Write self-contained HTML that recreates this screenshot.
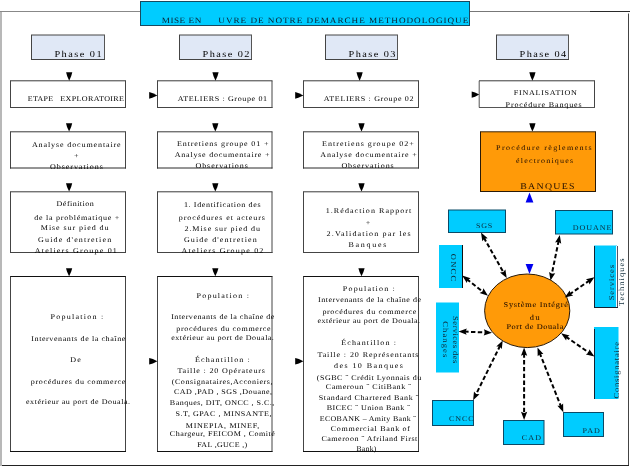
<!DOCTYPE html>
<html><head><meta charset="utf-8">
<style>
html,body{margin:0;padding:0;background:#fff;width:631px;height:466px;overflow:hidden}
svg{display:block;will-change:transform;text-rendering:geometricPrecision;font-family:"Liberation Serif",serif}
</style></head><body>
<svg width="631" height="466" viewBox="0 0 631 466">
<path d="M1 12 V466" stroke="#b8b8b8" stroke-width="2"/>
<path d="M0 11.5 H140" stroke="#888" stroke-width="1"/>
<path d="M470 11.5 H590" stroke="#777" stroke-width="1"/>
<path d="M590 11.5 H630" stroke="#2a2a2a" stroke-width="1"/>
<path d="M628.5 13.5 V466" stroke="#444" stroke-width="1"/>
<path d="M2 465.5 H629" stroke="#222" stroke-width="1"/>
<rect x="140.5" y="1.5" width="329" height="24" fill="#00ccff" stroke="#184a60"/>
<rect x="31" y="35" width="73.5" height="24.5" fill="#e0e8f6"/><path d="M31 35 H105.0" stroke="#444" stroke-width="1"/><path d="M31.5 35 V60.0" stroke="#444" stroke-width="1"/><path d="M104.5 35 V60.0" stroke="#555" stroke-width="1"/><path d="M31 59.5 H105.0" stroke="#444" stroke-width="1"/>
<rect x="179" y="35" width="72.5" height="24.5" fill="#e0e8f6"/><path d="M179 35 H252.0" stroke="#444" stroke-width="1"/><path d="M179.5 35 V60.0" stroke="#444" stroke-width="1"/><path d="M251.5 35 V60.0" stroke="#555" stroke-width="1"/><path d="M179 59.5 H252.0" stroke="#444" stroke-width="1"/>
<rect x="325" y="35" width="72.5" height="24.5" fill="#e0e8f6"/><path d="M325 35 H398.0" stroke="#444" stroke-width="1"/><path d="M325.5 35 V60.0" stroke="#444" stroke-width="1"/><path d="M397.5 35 V60.0" stroke="#555" stroke-width="1"/><path d="M325 59.5 H398.0" stroke="#444" stroke-width="1"/>
<rect x="496" y="35" width="72.5" height="24.5" fill="#e0e8f6"/><path d="M496 35 H569.0" stroke="#444" stroke-width="1"/><path d="M496.5 35 V60.0" stroke="#444" stroke-width="1"/><path d="M568.5 35 V60.0" stroke="#555" stroke-width="1"/><path d="M496 59.5 H569.0" stroke="#444" stroke-width="1"/>
<rect x="10" y="80.8" width="115.5" height="26.700000000000003" fill="#fff"/><path d="M10 80.8 H126.0" stroke="#3a3a3a" stroke-width="1"/><path d="M10.5 80.8 V108.0" stroke="#444" stroke-width="1"/><path d="M125.5 80.8 V108.0" stroke="#444" stroke-width="1"/><path d="M10 107.5 H126.0" stroke="#444" stroke-width="1"/>
<rect x="10" y="131.8" width="115.5" height="36.19999999999999" fill="#fff"/><path d="M10 131.8 H126.0" stroke="#3a3a3a" stroke-width="1"/><path d="M10.5 131.8 V168.5" stroke="#444" stroke-width="1"/><path d="M125.5 131.8 V168.5" stroke="#444" stroke-width="1"/><path d="M10 168.0 H126.0" stroke="#2a2a2a" stroke-width="1"/>
<rect x="10" y="191.8" width="115.5" height="60.69999999999999" fill="#fff"/><path d="M10 191.8 H126.0" stroke="#3a3a3a" stroke-width="1"/><path d="M10.5 191.8 V253.0" stroke="#444" stroke-width="1"/><path d="M125.5 191.8 V253.0" stroke="#444" stroke-width="1"/><path d="M10 252.5 H126.0" stroke="#444" stroke-width="1"/>
<rect x="10" y="276.5" width="115.5" height="175.0" fill="#fff"/><path d="M10 276.5 H126.0" stroke="#111" stroke-width="1"/><path d="M10.5 276.5 V452.0" stroke="#444" stroke-width="1"/><path d="M125.5 276.5 V452.0" stroke="#444" stroke-width="1"/><path d="M10 451.5 H126.0" stroke="#111" stroke-width="1"/>
<rect x="157" y="80.8" width="115.0" height="26.700000000000003" fill="#fff"/><path d="M157 80.8 H272.5" stroke="#3a3a3a" stroke-width="1"/><path d="M157.5 80.8 V108.0" stroke="#444" stroke-width="1"/><path d="M272.0 80.8 V108.0" stroke="#444" stroke-width="1"/><path d="M157 107.5 H272.5" stroke="#444" stroke-width="1"/>
<rect x="157" y="131.8" width="115.0" height="36.19999999999999" fill="#fff"/><path d="M157 131.8 H272.5" stroke="#3a3a3a" stroke-width="1"/><path d="M157.5 131.8 V168.5" stroke="#444" stroke-width="1"/><path d="M272.0 131.8 V168.5" stroke="#444" stroke-width="1"/><path d="M157 168.0 H272.5" stroke="#2a2a2a" stroke-width="1"/>
<rect x="157" y="191.8" width="115.0" height="60.69999999999999" fill="#fff"/><path d="M157 191.8 H272.5" stroke="#3a3a3a" stroke-width="1"/><path d="M157.5 191.8 V253.0" stroke="#444" stroke-width="1"/><path d="M272.0 191.8 V253.0" stroke="#444" stroke-width="1"/><path d="M157 252.5 H272.5" stroke="#444" stroke-width="1"/>
<rect x="157" y="276.5" width="115.0" height="175.0" fill="#fff"/><path d="M157 276.5 H272.5" stroke="#111" stroke-width="1"/><path d="M157.5 276.5 V452.0" stroke="#444" stroke-width="1"/><path d="M272.0 276.5 V452.0" stroke="#444" stroke-width="1"/><path d="M157 451.5 H272.5" stroke="#111" stroke-width="1"/>
<rect x="303" y="80.8" width="115.5" height="26.700000000000003" fill="#fff"/><path d="M303 80.8 H419.0" stroke="#3a3a3a" stroke-width="1"/><path d="M303.5 80.8 V108.0" stroke="#444" stroke-width="1"/><path d="M418.5 80.8 V108.0" stroke="#444" stroke-width="1"/><path d="M303 107.5 H419.0" stroke="#444" stroke-width="1"/>
<rect x="303" y="131.8" width="115.5" height="36.19999999999999" fill="#fff"/><path d="M303 131.8 H419.0" stroke="#3a3a3a" stroke-width="1"/><path d="M303.5 131.8 V168.5" stroke="#444" stroke-width="1"/><path d="M418.5 131.8 V168.5" stroke="#444" stroke-width="1"/><path d="M303 168.0 H419.0" stroke="#2a2a2a" stroke-width="1"/>
<rect x="303" y="191.8" width="115.5" height="60.69999999999999" fill="#fff"/><path d="M303 191.8 H419.0" stroke="#3a3a3a" stroke-width="1"/><path d="M303.5 191.8 V253.0" stroke="#444" stroke-width="1"/><path d="M418.5 191.8 V253.0" stroke="#444" stroke-width="1"/><path d="M303 252.5 H419.0" stroke="#444" stroke-width="1"/>
<rect x="303" y="276.5" width="115.5" height="175.0" fill="#fff"/><path d="M303 276.5 H419.0" stroke="#111" stroke-width="1"/><path d="M303.5 276.5 V452.0" stroke="#444" stroke-width="1"/><path d="M418.5 276.5 V452.0" stroke="#444" stroke-width="1"/><path d="M303 451.5 H419.0" stroke="#111" stroke-width="1"/>
<rect x="479" y="80.8" width="115.5" height="26.700000000000003" fill="#fff"/><path d="M479 80.8 H595.0" stroke="#3a3a3a" stroke-width="1"/><path d="M594.5 80.8 V108.0" stroke="#444" stroke-width="1"/><path d="M479 107.5 H595.0" stroke="#555" stroke-width="1"/>
<path d="M479.2 80.8 V107.5" stroke="#555" stroke-width="1"/>
<rect x="480" y="131.8" width="115.5" height="59.69999999999999" fill="#ff9a08"/><path d="M480 131.8 H596.0" stroke="#3a2408" stroke-width="1"/><path d="M480.5 131.8 V192.0" stroke="#2a1a08" stroke-width="1"/><path d="M595.5 131.8 V192.0" stroke="#2a1a08" stroke-width="1"/><path d="M480 191.5 H596.0" stroke="#2a1a08" stroke-width="1"/>
<path d="M66.10 72.3 H72.30 L71.25 76.12 L69.20 80.8 L67.15 76.12 Z" fill="#000"/>
<path d="M212.40 72.3 H218.60 L217.55 76.12 L215.50 80.8 L213.45 76.12 Z" fill="#000"/>
<path d="M356.50 72.3 H362.70 L361.65 76.12 L359.60 80.8 L357.55 76.12 Z" fill="#000"/>
<path d="M529.30 72.3 H535.50 L534.45 76.12 L532.40 80.8 L530.35 76.12 Z" fill="#000"/>
<path d="M66.00 123.2 H72.20 L71.15 126.98 L69.10 131.6 L67.05 126.98 Z" fill="#000"/>
<path d="M212.20 123.2 H218.40 L217.35 126.98 L215.30 131.6 L213.25 126.98 Z" fill="#000"/>
<path d="M358.40 123.2 H364.60 L363.55 126.98 L361.50 131.6 L359.45 126.98 Z" fill="#000"/>
<path d="M529.30 123.2 H535.50 L534.45 126.98 L532.40 131.6 L530.35 126.98 Z" fill="#000"/>
<path d="M66.00 183.2 H72.20 L71.15 186.98 L69.10 191.6 L67.05 186.98 Z" fill="#000"/>
<path d="M66.00 268.2 H72.20 L71.15 271.80 L69.10 276.2 L67.05 271.80 Z" fill="#000"/>
<path d="M212.20 183.2 H218.40 L217.35 186.98 L215.30 191.6 L213.25 186.98 Z" fill="#000"/>
<path d="M212.20 268.2 H218.40 L217.35 271.80 L215.30 276.2 L213.25 271.80 Z" fill="#000"/>
<path d="M358.40 183.2 H364.60 L363.55 186.98 L361.50 191.6 L359.45 186.98 Z" fill="#000"/>
<path d="M358.40 268.2 H364.60 L363.55 271.80 L361.50 276.2 L359.45 271.80 Z" fill="#000"/>
<path d="M149.2 92.10 V98.70 L152.89 97.58 L157.39999999999998 95.40 L152.89 93.22 Z" fill="#000"/>
<path d="M295.2 92.10 V98.70 L298.89 97.58 L303.4 95.40 L298.89 93.22 Z" fill="#000"/>
<path d="M471.7 91.45 V97.75 L475.07 96.68 L479.2 94.60 L475.07 92.52 Z" fill="#000"/>
<path d="M149.2 357.90 V364.50 L152.89 363.38 L157.39999999999998 361.20 L152.89 359.02 Z" fill="#000"/>
<path d="M295.2 357.90 V364.50 L298.89 363.38 L303.4 361.20 L298.89 359.02 Z" fill="#000"/>
<path d="M525.6 202.6 H533.4 L529.5 192.4 Z" fill="#0000ee"/>
<g fill="#00ccff" stroke="#0b4a66">
<rect x="448.5" y="210" width="57" height="22.5"/>
<rect x="555.5" y="210.5" width="57" height="23.5"/>
<rect x="432.5" y="400.5" width="41" height="25"/>
<rect x="503.5" y="420.5" width="40.5" height="24"/>
<rect x="563.5" y="412.5" width="40" height="24"/>
</g>
<g fill="#00ccff">
<rect x="439" y="245" width="24" height="43"/>
<rect x="436" y="302.5" width="23" height="70"/>
<rect x="594" y="245.5" width="23" height="61.5"/>
<rect x="594" y="327" width="24.5" height="72"/>
</g>
<path d="M462.5 245 V288" stroke="#111" stroke-width="1"/>
<path d="M594.5 246 V308" stroke="#123" stroke-width="1"/>
<path d="M617.5 246 V308" stroke="#556" stroke-width="1"/>
<path d="M616.5 246 V307" stroke="#e8f8ff" stroke-width="1"/>
<path d="M594 307.5 H618" stroke="#123" stroke-width="1"/>
<path d="M594.5 329 V399" stroke="#123" stroke-width="1"/>
<ellipse cx="527.2" cy="310.8" rx="42.6" ry="36.8" fill="#ff9a08" stroke="#2a1a08" stroke-width="1"/>
<path d="M525.6 264 H533.4 L529.5 274 Z" fill="#0000ee"/>
<line x1="483.8" y1="237.6" x2="503.9" y2="273.1" stroke="#000" stroke-width="2.0" stroke-dasharray="4.4 2.4"/>
<path d="M481.0 232.6 L482.3 241.3 L484.4 238.7 L487.7 238.2 Z" fill="#000"/>
<path d="M506.7 278.1 L500.0 272.5 L503.3 272.0 L505.4 269.4 Z" fill="#000"/>
<line x1="558.7" y1="240.6" x2="551.6" y2="275.0" stroke="#000" stroke-width="2.0" stroke-dasharray="4.4 2.4"/>
<path d="M559.8 235.0 L555.1 242.4 L558.4 241.8 L561.2 243.7 Z" fill="#000"/>
<path d="M550.5 280.6 L549.1 271.9 L551.9 273.8 L555.2 273.2 Z" fill="#000"/>
<line x1="589.7" y1="280.4" x2="569.4" y2="294.4" stroke="#000" stroke-width="2.0" stroke-dasharray="4.4 2.4"/>
<path d="M594.4 277.2 L585.9 279.3 L588.7 281.1 L589.4 284.4 Z" fill="#000"/>
<path d="M564.7 297.6 L569.7 290.4 L570.4 293.7 L573.2 295.5 Z" fill="#000"/>
<line x1="466.7" y1="279.1" x2="483.5" y2="292.2" stroke="#000" stroke-width="2.0" stroke-dasharray="4.4 2.4"/>
<path d="M462.2 275.6 L466.8 283.1 L467.7 279.9 L470.6 278.2 Z" fill="#000"/>
<path d="M488.0 295.7 L479.6 293.1 L482.5 291.4 L483.4 288.2 Z" fill="#000"/>
<line x1="464.2" y1="331.6" x2="486.3" y2="332.5" stroke="#000" stroke-width="2.0" stroke-dasharray="4.4 2.4"/>
<path d="M458.5 331.4 L466.6 334.8 L465.5 331.7 L466.8 328.6 Z" fill="#000"/>
<path d="M492.0 332.7 L483.7 335.5 L485.0 332.4 L483.9 329.3 Z" fill="#000"/>
<line x1="500.2" y1="345.5" x2="475.6" y2="395.2" stroke="#000" stroke-width="2.0" stroke-dasharray="4.4 2.4"/>
<path d="M502.7 340.4 L496.3 346.4 L499.6 346.6 L501.8 349.1 Z" fill="#000"/>
<path d="M473.1 400.3 L474.0 391.6 L476.2 394.1 L479.5 394.3 Z" fill="#000"/>
<line x1="524.1" y1="353.3" x2="524.1" y2="414.3" stroke="#000" stroke-width="2.0" stroke-dasharray="4.4 2.4"/>
<path d="M524.1 347.6 L521.0 355.8 L524.1 354.6 L527.2 355.8 Z" fill="#000"/>
<path d="M524.1 420.0 L521.0 411.8 L524.1 413.0 L527.2 411.8 Z" fill="#000"/>
<line x1="539.6" y1="352.8" x2="561.2" y2="407.0" stroke="#000" stroke-width="2.0" stroke-dasharray="4.4 2.4"/>
<path d="M537.5 347.5 L537.7 356.3 L540.1 354.0 L543.4 354.0 Z" fill="#000"/>
<path d="M563.3 412.3 L557.4 405.8 L560.7 405.8 L563.1 403.5 Z" fill="#000"/>
<line x1="565.8" y1="336.6" x2="589.7" y2="353.2" stroke="#000" stroke-width="2.0" stroke-dasharray="4.4 2.4"/>
<path d="M561.1 333.3 L566.1 340.5 L566.8 337.3 L569.6 335.4 Z" fill="#000"/>
<path d="M594.4 356.5 L585.9 354.4 L588.7 352.5 L589.4 349.3 Z" fill="#000"/>
<text transform="translate(161.7 23.1) scale(1.120 1)" font-size="8.2" fill="#0a2030" stroke="#0a2030" stroke-width="0.0" letter-spacing="0.471">MISE EN</text>
<text transform="translate(218.3 23.1) scale(1.120 1)" font-size="8.2" fill="#0a2030" stroke="#0a2030" stroke-width="0.0" letter-spacing="0.869">UVRE DE NOTRE DEMARCHE METHODOLOGIQUE</text>
<text transform="translate(54.4 57.3) scale(1.120 1)" font-size="9.2" fill="#000" stroke="#000" stroke-width="0.0" letter-spacing="1.317">Phase 01</text>
<text transform="translate(202.6 57.3) scale(1.120 1)" font-size="9.2" fill="#000" stroke="#000" stroke-width="0.0" letter-spacing="1.266">Phase 02</text>
<text transform="translate(348.6 57.3) scale(1.120 1)" font-size="9.2" fill="#000" stroke="#000" stroke-width="0.0" letter-spacing="1.266">Phase 03</text>
<text transform="translate(519.6 57.3) scale(1.120 1)" font-size="9.2" fill="#000" stroke="#000" stroke-width="0.0" letter-spacing="1.228">Phase 04</text>
<text transform="translate(27.8 101.2) scale(1.100 1)" font-size="7.2" fill="#000" stroke="#000" stroke-width="0.0" letter-spacing="0.300">ETAPE</text>
<text transform="translate(60.3 101.2) scale(1.120 1)" font-size="7.2" fill="#000" stroke="#000" stroke-width="0.0" letter-spacing="0.318">EXPLORATOIRE</text>
<text transform="translate(177.7 101.2) scale(1.120 1)" font-size="7.2" fill="#000" stroke="#000" stroke-width="0.0" letter-spacing="0.555">ATELIERS : Groupe 01</text>
<text transform="translate(323.7 101.2) scale(1.120 1)" font-size="7.2" fill="#000" stroke="#000" stroke-width="0.0" letter-spacing="0.574">ATELIERS : Groupe 02</text>
<text transform="translate(513.8 95.2) scale(1.120 1)" font-size="7.2" fill="#000" stroke="#000" stroke-width="0.0" letter-spacing="0.656">FINALISATION</text>
<text transform="translate(505.6 107.4) scale(1.120 1)" font-size="7.2" fill="#000" stroke="#000" stroke-width="0.0" letter-spacing="0.761">Procédure Banques</text>
<text transform="translate(31.9 146.7) scale(1.120 1)" font-size="7.2" fill="#000" stroke="#000" stroke-width="0.0" letter-spacing="0.780">Analyse documentaire</text>
<text transform="translate(73.9 157.5) scale(1.120 1)" font-size="7.2" fill="#000" stroke="#000" stroke-width="0.0" letter-spacing="0.045">+</text>
<text transform="translate(50.0 168.5) scale(1.120 1)" font-size="7.2" fill="#000" stroke="#000" stroke-width="0.0" letter-spacing="0.837">Observations</text>
<text transform="translate(177.1 146.0) scale(1.120 1)" font-size="7.2" fill="#000" stroke="#000" stroke-width="0.0" letter-spacing="0.756">Entretiens groupe 01 +</text>
<text transform="translate(174.7 157.0) scale(1.120 1)" font-size="7.2" fill="#000" stroke="#000" stroke-width="0.0" letter-spacing="0.682">Analyse documentaire +</text>
<text transform="translate(195.5 167.7) scale(1.120 1)" font-size="7.2" fill="#000" stroke="#000" stroke-width="0.0" letter-spacing="0.796">Observations</text>
<text transform="translate(322.1 146.0) scale(1.120 1)" font-size="7.2" fill="#000" stroke="#000" stroke-width="0.0" letter-spacing="0.901">Entretiens groupe  02+</text>
<text transform="translate(320.3 157.0) scale(1.120 1)" font-size="7.2" fill="#000" stroke="#000" stroke-width="0.0" letter-spacing="0.754">Analyse documentaire +</text>
<text transform="translate(341.4 167.7) scale(1.120 1)" font-size="7.2" fill="#000" stroke="#000" stroke-width="0.0" letter-spacing="0.796">Observations</text>
<text transform="translate(496.1 149.8) scale(1.120 1)" font-size="7.2" fill="#1e0c00" stroke="#1e0c00" stroke-width="0.0" letter-spacing="1.202">Procédure  règlements</text>
<text transform="translate(516.0 163.1) scale(1.120 1)" font-size="7.2" fill="#1e0c00" stroke="#1e0c00" stroke-width="0.0" letter-spacing="1.055">électroniques</text>
<text transform="translate(520.2 189.0) scale(1.120 1)" font-size="8.8" fill="#1e0c00" stroke="#1e0c00" stroke-width="0.0" letter-spacing="1.171">BANQUES</text>
<text transform="translate(56.6 206.2) scale(1.120 1)" font-size="7.2" fill="#000" stroke="#000" stroke-width="0.0" letter-spacing="0.398">Définition</text>
<text transform="translate(34.3 219.5) scale(1.120 1)" font-size="7.2" fill="#000" stroke="#000" stroke-width="0.0" letter-spacing="0.646">de  la problématique  +</text>
<text transform="translate(40.8 230.2) scale(1.120 1)" font-size="7.2" fill="#000" stroke="#000" stroke-width="0.0" letter-spacing="0.821">Mise sur pied du</text>
<text transform="translate(38.1 241.9) scale(1.120 1)" font-size="7.2" fill="#000" stroke="#000" stroke-width="0.0" letter-spacing="0.991">Guide d&#x27;entretien</text>
<text transform="translate(34.7 253.0) scale(1.120 1)" font-size="7.2" fill="#000" stroke="#000" stroke-width="0.0" letter-spacing="1.076">Ateliers Groupe 01</text>
<text transform="translate(183.9 206.7) scale(1.120 1)" font-size="7.2" fill="#000" stroke="#000" stroke-width="0.0" letter-spacing="0.559">1. Identification des</text>
<text transform="translate(178.8 220.0) scale(1.120 1)" font-size="7.2" fill="#000" stroke="#000" stroke-width="0.0" letter-spacing="0.815">procédures et acteurs</text>
<text transform="translate(184.5 230.5) scale(1.120 1)" font-size="7.2" fill="#000" stroke="#000" stroke-width="0.0" letter-spacing="0.817">2.Mise sur pied du</text>
<text transform="translate(183.9 242.2) scale(1.120 1)" font-size="7.2" fill="#000" stroke="#000" stroke-width="0.0" letter-spacing="0.975">Guide d&#x27;entretien</text>
<text transform="translate(181.6 253.3) scale(1.120 1)" font-size="7.2" fill="#000" stroke="#000" stroke-width="0.0" letter-spacing="1.055">Ateliers Groupe 02</text>
<text transform="translate(325.7 212.9) scale(1.120 1)" font-size="7.2" fill="#000" stroke="#000" stroke-width="0.0" letter-spacing="0.941">1.Rédaction Rapport</text>
<text transform="translate(365.8 225.0) scale(1.120 1)" font-size="7.2" fill="#000" stroke="#000" stroke-width="0.0" letter-spacing="0.045">+</text>
<text transform="translate(326.6 236.1) scale(1.120 1)" font-size="7.2" fill="#000" stroke="#000" stroke-width="0.0" letter-spacing="1.020">2.Validation par les</text>
<text transform="translate(348.5 247.2) scale(1.120 1)" font-size="7.2" fill="#000" stroke="#000" stroke-width="0.0" letter-spacing="1.527">Banques</text>
<text transform="translate(50.6 319.4) scale(1.120 1)" font-size="7.2" fill="#000" stroke="#000" stroke-width="0.0" letter-spacing="1.098">Population  :</text>
<text transform="translate(31.3 341.1) scale(1.120 1)" font-size="7.2" fill="#000" stroke="#000" stroke-width="0.0" letter-spacing="0.512">Intervenants de la chaîne</text>
<text transform="translate(70.2 362.4) scale(1.120 1)" font-size="7.2" fill="#000" stroke="#000" stroke-width="0.0" letter-spacing="1.163">De</text>
<text transform="translate(30.8 383.7) scale(1.120 1)" font-size="7.2" fill="#000" stroke="#000" stroke-width="0.0" letter-spacing="0.577">procédures du commerce</text>
<text transform="translate(26.0 404.0) scale(1.120 1)" font-size="7.2" fill="#000" stroke="#000" stroke-width="0.0" letter-spacing="0.460">extérieur au port de Douala.</text>
<text transform="translate(196.5 297.6) scale(1.120 1)" font-size="7.2" fill="#000" stroke="#000" stroke-width="0.0" letter-spacing="1.075">Population  :</text>
<text transform="translate(171.2 318.9) scale(1.120 1)" font-size="7.2" fill="#000" stroke="#000" stroke-width="0.0" letter-spacing="0.441">Intervenants de la chaîne de</text>
<text transform="translate(176.3 330.9) scale(1.120 1)" font-size="7.2" fill="#000" stroke="#000" stroke-width="0.0" letter-spacing="0.569">procédures du commerce</text>
<text transform="translate(171.2 339.5) scale(1.120 1)" font-size="7.2" fill="#000" stroke="#000" stroke-width="0.0" letter-spacing="0.417">extérieur au port de Douala.</text>
<text transform="translate(194.9 362.3) scale(1.120 1)" font-size="7.2" fill="#000" stroke="#000" stroke-width="0.0" letter-spacing="1.012">Échantillon  :</text>
<text transform="translate(177.4 372.9) scale(1.120 1)" font-size="7.2" fill="#000" stroke="#000" stroke-width="0.0" letter-spacing="0.754">Taille : 20 Opérateurs</text>
<text transform="translate(171.7 384.4) scale(1.120 1)" font-size="7.2" fill="#000" stroke="#000" stroke-width="0.0" letter-spacing="0.486">(Consignataires,Acconiers,</text>
<text transform="translate(174.0 393.9) scale(1.120 1)" font-size="7.2" fill="#000" stroke="#000" stroke-width="0.0" letter-spacing="0.395">CAD ,PAD , SGS ,Douane,</text>
<text transform="translate(169.8 405.4) scale(1.120 1)" font-size="7.2" fill="#000" stroke="#000" stroke-width="0.0" letter-spacing="0.416">Banques, DIT, ONCC ,  S.C.,</text>
<text transform="translate(175.5 415.5) scale(1.120 1)" font-size="7.2" fill="#000" stroke="#000" stroke-width="0.0" letter-spacing="0.477">S.T, GPAC , MINSANTE,</text>
<text transform="translate(185.8 427.5) scale(1.120 1)" font-size="7.2" fill="#000" stroke="#000" stroke-width="0.0" letter-spacing="0.601">MINEPIA, MINEF,</text>
<text transform="translate(169.8 436.4) scale(1.120 1)" font-size="7.2" fill="#000" stroke="#000" stroke-width="0.0" letter-spacing="0.421">Chargeur, FEICOM , Comité</text>
<text transform="translate(197.2 446.5) scale(1.105 1)" font-size="7.2" fill="#000" stroke="#000" stroke-width="0.0" letter-spacing="0.300">FAL ,GUCE ,)</text>
<text transform="translate(342.8 291.4) scale(1.120 1)" font-size="7.2" fill="#000" stroke="#000" stroke-width="0.0" letter-spacing="1.046">Population  :</text>
<text transform="translate(318.1 302.3) scale(1.120 1)" font-size="7.2" fill="#000" stroke="#000" stroke-width="0.0" letter-spacing="0.431">Intervenants de la chaîne de</text>
<text transform="translate(322.4 313.7) scale(1.120 1)" font-size="7.2" fill="#000" stroke="#000" stroke-width="0.0" letter-spacing="0.556">procédures du commerce</text>
<text transform="translate(317.5 322.6) scale(1.120 1)" font-size="7.2" fill="#000" stroke="#000" stroke-width="0.0" letter-spacing="0.410">extérieur au port de Douala.</text>
<text transform="translate(341.2 345.4) scale(1.120 1)" font-size="7.2" fill="#000" stroke="#000" stroke-width="0.0" letter-spacing="0.991">Échantillon  :</text>
<text transform="translate(317.4 356.9) scale(1.120 1)" font-size="7.2" fill="#000" stroke="#000" stroke-width="0.0" letter-spacing="0.796">Taille : 20 Représentants</text>
<text transform="translate(334.0 368.2) scale(1.120 1)" font-size="7.2" fill="#000" stroke="#000" stroke-width="0.0" letter-spacing="1.268">des 10 Banques</text>
<text transform="translate(316.8 379.5) scale(1.120 1)" font-size="7.2" fill="#000" stroke="#000" stroke-width="0.0" letter-spacing="0.438">(SGBC ˝ Crédit Lyonnais du</text>
<text transform="translate(325.8 389.4) scale(1.120 1)" font-size="7.2" fill="#000" stroke="#000" stroke-width="0.0" letter-spacing="0.500">Cameroun ˝ CitiBank ˝</text>
<text transform="translate(318.8 400.4) scale(1.120 1)" font-size="7.2" fill="#000" stroke="#000" stroke-width="0.0" letter-spacing="0.507">Standard Chartered Bank ˝</text>
<text transform="translate(326.7 410.3) scale(1.120 1)" font-size="7.2" fill="#000" stroke="#000" stroke-width="0.0" letter-spacing="0.426">BICEC ˝ Union Bank ˝</text>
<text transform="translate(319.8 421.2) scale(1.100 1)" font-size="7.2" fill="#000" stroke="#000" stroke-width="0.0" letter-spacing="0.300">ECOBANK – Amity Bank ˝</text>
<text transform="translate(330.7 431.1) scale(1.120 1)" font-size="7.2" fill="#000" stroke="#000" stroke-width="0.0" letter-spacing="0.619">Commercial Bank of</text>
<text transform="translate(321.4 441.0) scale(1.120 1)" font-size="7.2" fill="#000" stroke="#000" stroke-width="0.0" letter-spacing="0.449">Cameroon ˝ Afriland First</text>
<text transform="translate(356.5 450.9) scale(1.054 1)" font-size="7.2" fill="#000" stroke="#000" stroke-width="0.0" letter-spacing="0.300">Bank)</text>
<text transform="translate(475.9 228.3) scale(1.120 1)" font-size="7.2" fill="#0d2a38" stroke="#0d2a38" stroke-width="0.0" letter-spacing="0.683">SGS</text>
<text transform="translate(572.8 230.1) scale(1.120 1)" font-size="7.2" fill="#0d2a38" stroke="#0d2a38" stroke-width="0.0" letter-spacing="0.824">DOUANE</text>
<text transform="translate(449.0 420.9) scale(1.120 1)" font-size="7.2" fill="#0d2a38" stroke="#0d2a38" stroke-width="0.0" letter-spacing="0.766">CNCC</text>
<text transform="translate(521.8 440.2) scale(1.120 1)" font-size="7.2" fill="#0d2a38" stroke="#0d2a38" stroke-width="0.0" letter-spacing="0.978">CAD</text>
<text transform="translate(582.6 433.3) scale(1.120 1)" font-size="7.2" fill="#0d2a38" stroke="#0d2a38" stroke-width="0.0" letter-spacing="0.864">PAD</text>
<text transform="translate(503.5 307.3) scale(1.120 1)" font-size="7.4" fill="#1e0c00" stroke="#1e0c00" stroke-width="0.05" letter-spacing="0.691">Système Intégré</text>
<text transform="translate(529.7 319.5) scale(1.120 1)" font-size="7.4" fill="#1e0c00" stroke="#1e0c00" stroke-width="0.05" letter-spacing="1.449">du</text>
<text transform="translate(506.4 328.9) scale(1.120 1)" font-size="7.4" fill="#1e0c00" stroke="#1e0c00" stroke-width="0.05" letter-spacing="0.504">Port de Douala</text>
<text transform="translate(451.3 253.7) rotate(90) scale(1.120 1)" font-size="7.6" fill="#0d2a38" stroke="#0d2a38" stroke-width="0.0" letter-spacing="1.178">ONCC</text>
<text transform="translate(453.2 316.0) rotate(90) scale(1.120 1)" font-size="7.6" fill="#0d2a38" stroke="#0d2a38" stroke-width="0.0" letter-spacing="0.407">Services des</text>
<text transform="translate(442.9 321.2) rotate(90) scale(1.120 1)" font-size="7.6" fill="#0d2a38" stroke="#0d2a38" stroke-width="0.0" letter-spacing="1.013">Changes</text>
<text transform="translate(614.4 300.3) rotate(-90) scale(1.120 1)" font-size="7.6" fill="#0d2a38" stroke="#0d2a38" stroke-width="0.0" letter-spacing="0.839">Services</text>
<text transform="translate(624.4 306.0) rotate(-90) scale(1.120 1)" font-size="7.6" fill="#0d2a38" stroke="#0d2a38" stroke-width="0.0" letter-spacing="0.881">Techniques</text>
<text transform="translate(619.4 398.5) rotate(-90) scale(1.120 1)" font-size="7.6" fill="#0d2a38" stroke="#0d2a38" stroke-width="0.0" letter-spacing="0.696">Consignataire</text>
</svg>
</body></html>
